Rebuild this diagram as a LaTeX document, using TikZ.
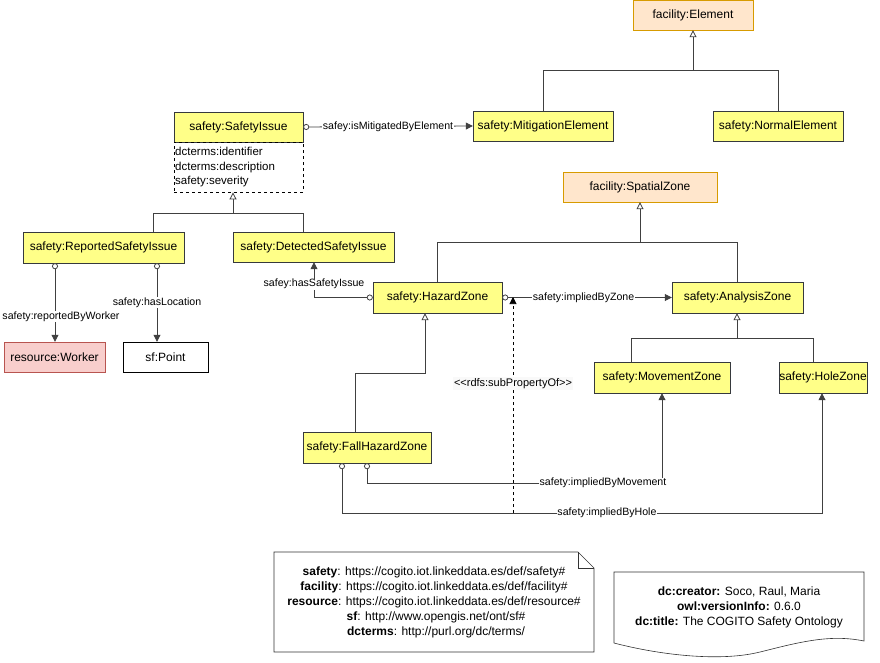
\documentclass[tikz,border=0pt]{standalone}
\usepackage{fontspec}
\setmainfont{Liberation Sans}
\usetikzlibrary{arrows.meta}
\definecolor{yel}{HTML}{FFFF88}
\definecolor{yelb}{HTML}{36393D}
\definecolor{org}{HTML}{FFE6CC}
\definecolor{orgb}{HTML}{D79B00}
\definecolor{red}{HTML}{F8CECC}
\definecolor{redb}{HTML}{B85450}
\begin{document}
\begin{tikzpicture}[x=1pt,y=-1pt,
 cls/.style={draw=yelb,fill=yel,inner sep=0pt,font=\fontsize{12}{14}\selectfont},
 ext/.style={draw=orgb,fill=org,inner sep=0pt,font=\fontsize{12}{14}\selectfont},
 lbl/.style={fill=white,inner sep=0.5pt,font=\fontsize{10.6}{12}\selectfont},
 e/.style={draw=black!75,line width=0.8pt},
 inh/.style={e,-{Triangle[open,fill=white,length=7pt,width=7pt]}},
 prop/.style={e,{Circle[open,fill=white,length=6pt,width=6pt]}-{Triangle[length=7pt,width=7pt]}},
 arr/.style={e,-{Triangle[length=7pt,width=7pt]}}]
\useasboundingbox (0,0) rectangle (880,663);
\def\bx#1#2#3#4#5#6#7{\node[#2,minimum width=#5-#3,minimum height=#6-#4] (#1) at ({(#3+#5)/2},{(#4+#6)/2}) {#7};}
\bx{el}{ext}{633}{0}{753}{30}{facility:Element}
\bx{mit}{cls}{473}{111}{613}{141}{safety:MitigationElement}
\bx{nor}{cls}{713}{111}{843}{141}{safety:NormalElement}
\bx{si}{cls}{174}{112}{303}{142}{safety:SafetyIssue}
\node[draw,dashed,minimum width=129,minimum height=50,inner sep=1pt,anchor=north west,align=left,font=\fontsize{11.5}{14.5}\selectfont,text width=127] (att) at (174,142) {dcterms:identifier\\dcterms:description\\safety:severity};
\bx{sz}{ext}{563}{172}{717}{202}{facility:SpatialZone}
\bx{rsi}{cls}{23}{232}{184}{263}{safety:ReportedSafetyIssue}
\bx{dsi}{cls}{233}{232}{394}{262}{safety:DetectedSafetyIssue}
\bx{hz}{cls}{373}{282}{502}{313}{safety:HazardZone}
\bx{az}{cls}{672}{282}{803}{313}{safety:AnalysisZone}
\bx{mz}{cls}{594}{362}{730}{393}{safety:MovementZone}
\bx{ho}{cls}{783}{362}{863}{393}{safety:HoleZone}
\bx{fz}{cls}{303}{432}{431}{463}{safety:FallHazardZone}
\bx{wk}{cls,draw=redb,fill=red}{4}{342}{105}{372}{resource:Worker}
\bx{pt}{cls,draw=black,fill=white}{123}{342}{208}{372}{sf:Point}
% inheritance
\coordinate (j1) at (693,70);
\draw[e] (mit.north) |- (j1); \draw[e] (nor.north) |- (j1);
\draw[inh] (j1) -- (el.south);
\coordinate (j2) at (233,213);
\draw[e] (153,232) |- (j2); \draw[e] (303,232) |- (j2);
\draw[inh] (j2) -- (att.south -| j2);
\coordinate (j3) at (640,242);
\draw[e] (hz.north) |- (j3); \draw[e] (az.north -| 737,0) |- (j3);
\draw[inh] (j3) -- (sz.south -| j3);
\coordinate (j4) at (737,338);
\draw[e] (631,362) |- (j4); \draw[e] (813,362) |- (j4);
\draw[inh] (j4) -- (az.south -| j4);
\draw[inh] (355,432) |- (425,373) -- (hz.south -| 425,0);
% properties
\draw[prop] (si.east) -- node[lbl]{safey:isMitigatedByElement} (mit.west);
\draw[prop] (rsi.south -| 55,0) -- node[lbl,pos=0.68,xshift=6pt]{safety:reportedByWorker} (wk.north -| 55,0);
\draw[prop] (rsi.south -| 157,0) -- node[lbl,pos=0.5]{safety:hasLocation} (pt.north -| 157,0);
\draw[prop] (hz.west) -| node[lbl,pos=0.69]{safey:hasSafetyIssue} (dsi.south -| 314,0);
\draw[prop] (hz.east) -- node[lbl,pos=0.48]{safety:impliedByZone} (az.west);
\draw[prop] (fz.south -| 367,0) |- node[lbl,pos=0.9]{safety:impliedByMovement} (662,483) -- (mz.south -| 662,0);
\draw[prop] (fz.south -| 342,0) |- node[lbl,pos=0.776]{safety:impliedByHole} (822,513) -- (ho.south -| 822,0);
\coordinate (sp) at (513,513);
\draw[arr,dashed,line width=0.6pt,draw=black] (sp) -- node[fill=gray!5,inner sep=1pt,font=\fontsize{11}{13}\selectfont,pos=0.6]{{<}{<}rdfs:subPropertyOf{>}{>}} (513,297);
% note
\draw[black!80,line width=0.6pt] (274,552) -- (578,552) -- (594,568) -- (594,652) -- (274,652) -- cycle;
\draw[black!80,line width=0.6pt] (578,552) -- (578,568) -- (594,568);
\node[align=center,font=\fontsize{12}{15}\selectfont] (ns) at (434,602) {\textbf{safety}: https://cogito.iot.linkeddata.es/def/safety\#\\
\textbf{facility}: https://cogito.iot.linkeddata.es/def/facility\#\\
\textbf{resource}: https://cogito.iot.linkeddata.es/def/resource\#\\
\hspace*{4pt}\textbf{sf}: http://www.opengis.net/ont/sf\#\\
\hspace*{4pt}\textbf{dcterms}: http://purl.org/dc/terms/};
\draw[black!80,line width=0.6pt] (614,643) -- (614,572) -- (864,572) -- (864,641) .. controls (830,634) and (800,642) .. (760,652) .. controls (720,662) and (660,655) .. (614,643);
\node[align=center,font=\fontsize{12}{15}\selectfont] (md) at (739,607) {\textbf{dc:creator:} Soco, Raul, Maria\\\textbf{owl:versionInfo:} 0.6.0\\\textbf{dc:title:} The COGITO Safety Ontology};
\end{tikzpicture}
\end{document}
